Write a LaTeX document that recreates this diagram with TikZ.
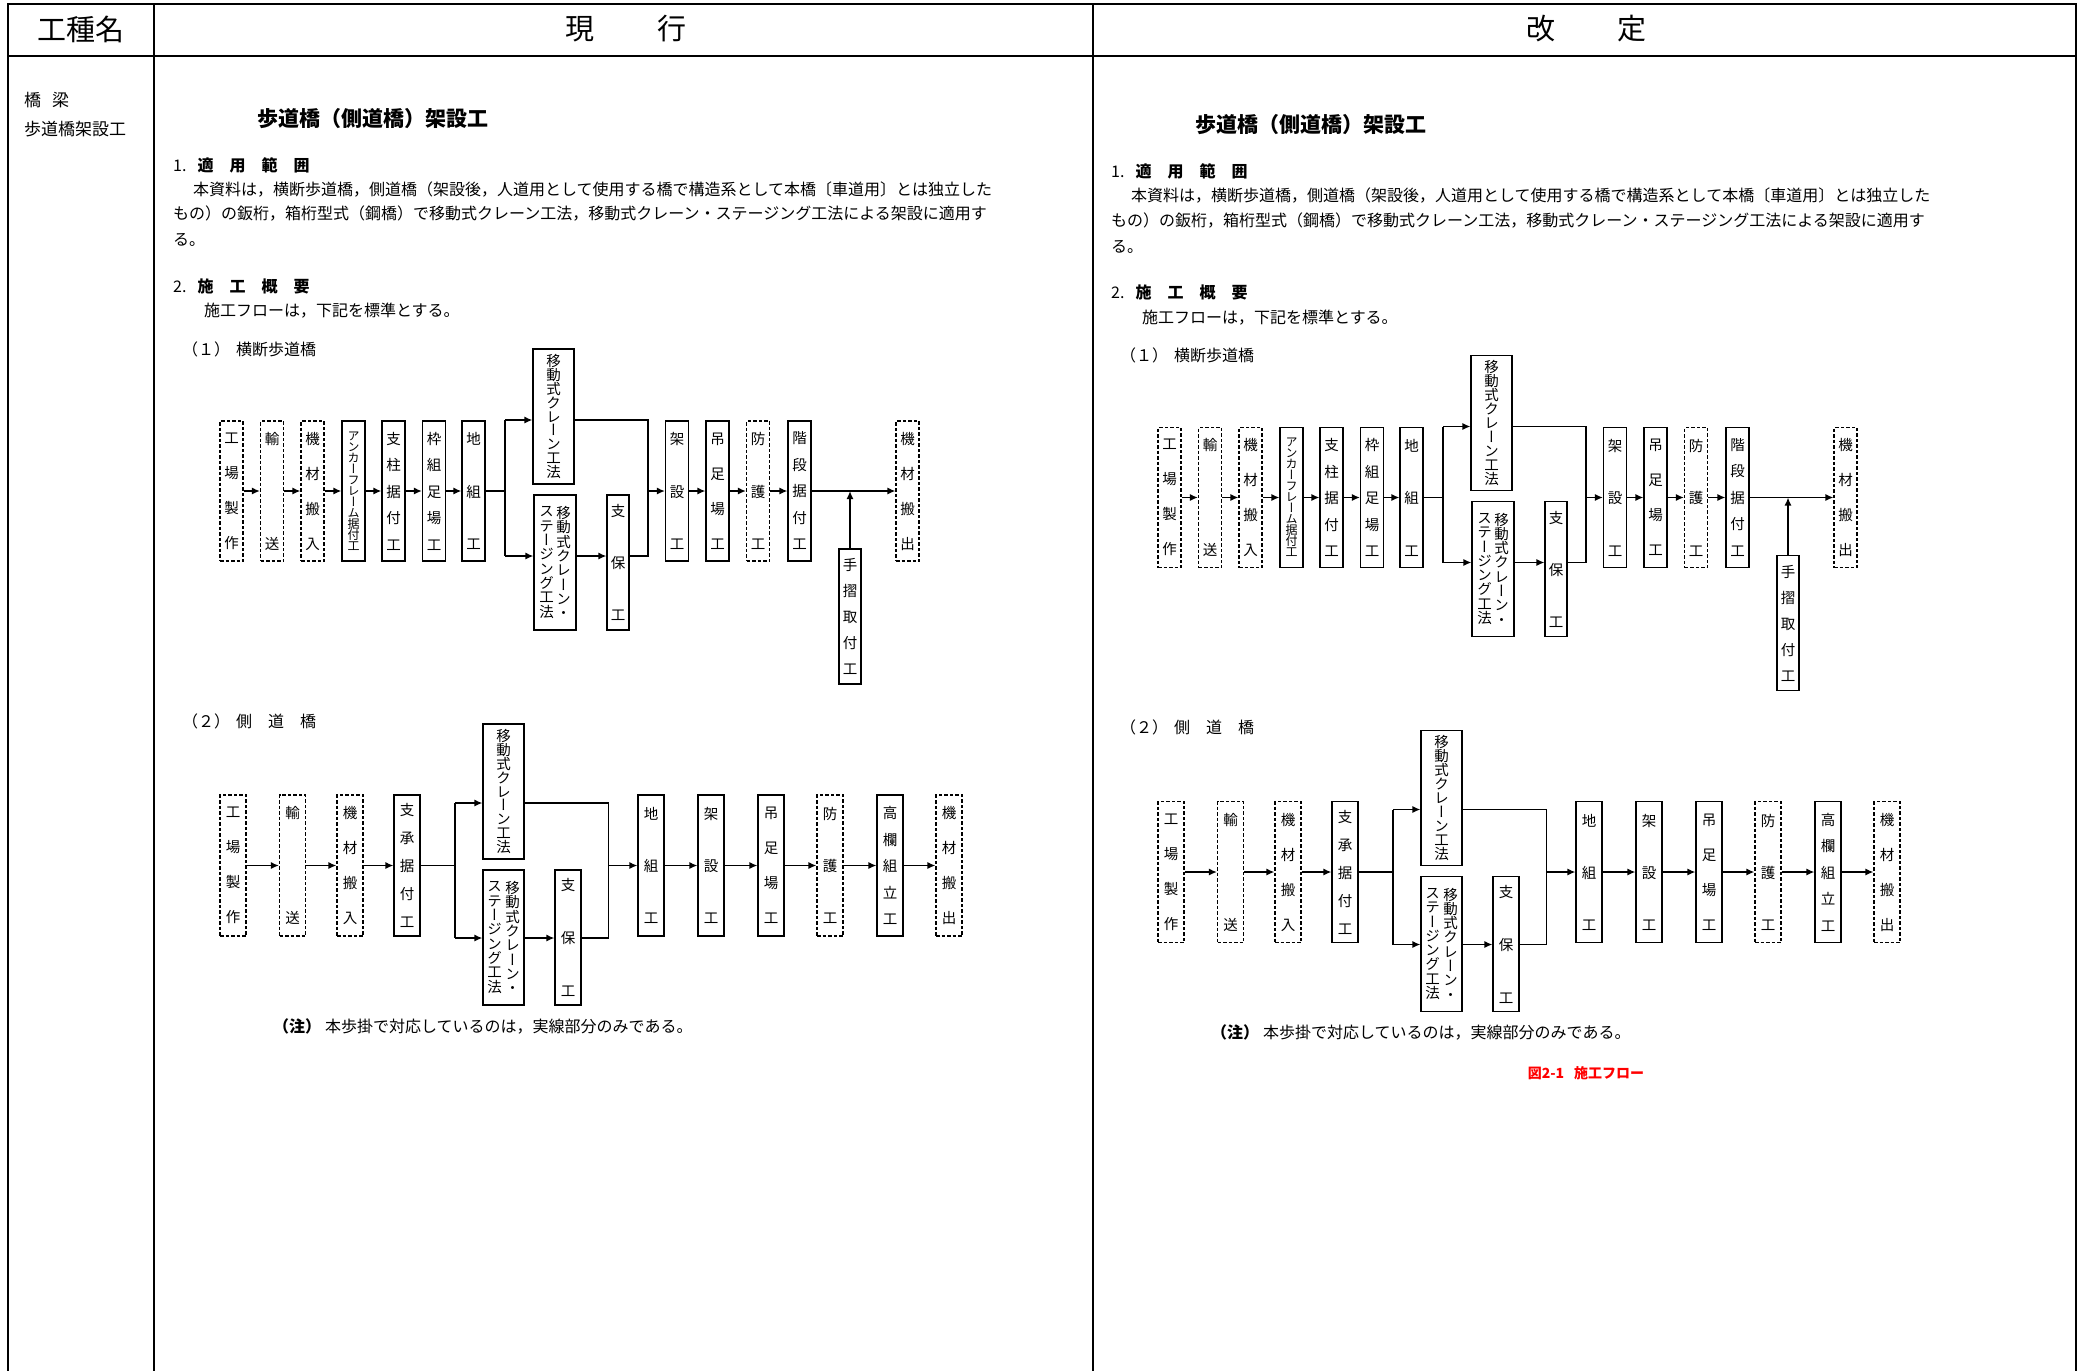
\documentclass[tikz,border=0pt]{standalone}
\usepackage{fontspec}
\setmainfont{Noto Sans CJK JP}
\newfontfamily\vjp{Noto Sans CJK JP}[RawFeature=+vert]
\usetikzlibrary{arrows.meta}

\begin{document}
\begin{tikzpicture}[x=1pt, y=-1pt,
    box/.style={draw, line width=1.1pt, inner sep=0pt, minimum width=23, minimum height=140, align=center},
    dbox/.style={box, dash pattern=on 3.5pt off 2pt},
    sp/.style={font=\vjp\fontsize{14.5}{#1}\selectfont},
    vt/.style={sp=#1, align=center, inner sep=0pt},
    arr/.style={line width=1.5pt, -{Latex[length=8pt, width=7pt]}},
    ln/.style={line width=1.1pt},
    txt/.style={anchor=west, inner sep=0pt, font=\fontsize{16}{18}\selectfont},
    hd/.style={txt, font=\bfseries\fontsize{16}{18}\selectfont}]

\fill[white] (0,0) rectangle (2087,1370);
\useasboundingbox (0,0) rectangle (2087,1370);

% table
\draw[line width=2.6pt] (8,1372) -- (8,4) -- (2076,4) -- (2076,1372);
\draw[line width=2.6pt] (8,56) -- (2076,56);
\draw[line width=2.6pt] (154,4) -- (154,1372);
\draw[line width=2.6pt] (1093,4) -- (1093,1372);

\node[font=\fontsize{29}{31}\selectfont] (h1) at (81,29) {工種名};
\node[font=\fontsize{29}{31}\selectfont] (h2) at (626,29) {現\hspace{63pt}行};
\node[font=\fontsize{29}{31}\selectfont] (h3) at (1586.5,29) {改\hspace{62pt}定};

\node[txt, font=\fontsize{17}{19}\selectfont] (k1) at (24,100) {橋\hspace{11pt}梁};
\node[txt, font=\fontsize{17}{19}\selectfont] (k2) at (24,129) {歩道橋架設工};

\foreach \dx/\dy in {0/0, 938/6.5} {
\begin{scope}[shift={(\dx,\dy)}]

% text
\node[hd, font=\bfseries\fontsize{21}{24}\selectfont] (ti) at (257,118.5) {歩道橋（側道橋）架設工};
\node[hd] (s1) at (173,165) {\mdseries 1.\hspace{11pt}\bfseries 適　用　範　囲};
\node[txt] (p1) at (193,189) {本資料は，横断歩道橋，側道橋（架設後，人道用として使用する橋で構造系として本橋〔車道用〕とは独立した};
\node[txt] (p2) at (173,214) {もの）の鈑桁，箱桁型式（鋼橋）で移動式クレーン工法，移動式クレーン・ステージング工法による架設に適用す};
\node[txt] (p3) at (173,240) {る。};
\node[hd] (s2) at (173,286) {\mdseries 2.\hspace{11pt}\bfseries 施　工　概　要};
\node[txt] (p4) at (204,311) {施工フローは，下記を標準とする。};
\node[txt] (f1) at (182,349) {（１）\hspace{6pt}横断歩道橋};
\node[txt] (f2) at (182,721) {（２）\hspace{6pt}側　道　橋};
\node[txt] (nt) at (273,1026) {\textbf{（注）}\hspace{4pt}本歩掛で対応しているのは，実線部分のみである。};

% flow 1
\node[dbox, sp=35] (a1) at (231.5,491) {工\\場\\製\\作};
\node[dbox, sp=35] (a2) at (272,491) {輸\\[70pt]送};
\node[dbox, sp=35] (a3) at (312.5,491) {機\\材\\搬\\入};
\node[box, font=\vjp\fontsize{12}{11}\selectfont] (a4) at (353.5,491) {ア\\ン\\カ\\ー\\フ\\レ\\ー\\ム\\据\\付\\工};
\node[box, sp=26.5] (a5) at (393.5,491) {支\\柱\\据\\付\\工};
\node[box, sp=26.5] (a6) at (434,491) {枠\\組\\足\\場\\工};
\node[box, sp=52.5] (a7) at (473.5,491) {地\\組\\工};
\node[box, sp=13.9, minimum width=41, minimum height=135] (cr) at (553.5,416.5) {移\\動\\式\\ク\\レ\\ー\\ン\\工\\法};
\node[box, minimum width=42, minimum height=135] (st) at (555,562.5) {};
\node[vt=14.3] (st1) at ([xshift=8.5]st.center) {移\\動\\式\\ク\\レ\\ー\\ン\\・};
\node[vt=14.3] (st2) at ([xshift=-8.5]st.center) {ス\\テ\\ー\\ジ\\ン\\グ\\工\\法};
\node[box, sp=52, minimum width=22, minimum height=135] (hs) at (618,562.5) {支\\保\\工};
\node[box, sp=52.5] (a8) at (677,491) {架\\設\\工};
\node[box, sp=35] (a9) at (717.5,491) {吊\\足\\場\\工};
\node[dbox, sp=52.5] (a10) at (758,491) {防\\護\\工};
\node[box, sp=26.5] (a11) at (799.5,491) {階\\段\\据\\付\\工};
\node[dbox, sp=35] (a12) at (907.5,491) {機\\材\\搬\\出};
\node[box, sp=26, minimum width=22, minimum height=135] (te) at (850,616.5) {手\\摺\\取\\付\\工};

\coordinate (b1) at (505,491);
\coordinate (bu1) at (505,420);
\coordinate (bd1) at (505,556);
\coordinate (j1) at (648,491);
\coordinate (jd1) at (648,556);

\draw[arr] (a1) -- (a2);
\draw[arr] (a2) -- (a3);
\draw[arr] (a3) -- (a4);
\draw[arr] (a4) -- (a5);
\draw[arr] (a5) -- (a6);
\draw[arr] (a6) -- (a7);
\draw[ln] (a7) -- (b1);
\draw[ln] (bu1) -- (bd1);
\draw[arr] (bu1) -- (bu1 -| cr.west);
\draw[arr] (bd1) -- (bd1 -| st.west);
\draw[arr] (bd1 -| st.east) -- (bd1 -| hs.west);
\draw[ln] (bu1 -| cr.east) -| (jd1) -- (jd1 -| hs.east);
\draw[arr] (j1) -- (a8);
\draw[arr] (a8) -- (a9);
\draw[arr] (a9) -- (a10);
\draw[arr] (a10) -- (a11);
\draw[arr] (a11) -- (a12);
\draw[arr] (te) -- (te |- a11);

% flow 2
\node[dbox, sp=35, minimum width=26, minimum height=141] (c1) at (233,865.5) {工\\場\\製\\作};
\node[dbox, sp=35, minimum width=26, minimum height=141] (c2) at (292.5,865.5) {輸\\[70pt]送};
\node[dbox, sp=35, minimum width=26, minimum height=141] (c3) at (350,865.5) {機\\材\\搬\\入};
\node[box, sp=28, minimum width=26, minimum height=141] (c4) at (407,865.5) {支\\承\\据\\付\\工};
\node[box, sp=13.9, minimum width=41, minimum height=135] (cr2) at (503.5,791.5) {移\\動\\式\\ク\\レ\\ー\\ン\\工\\法};
\node[box, minimum width=41, minimum height=135] (sb) at (503.5,937.5) {};
\node[vt=14.3] (sb1) at ([xshift=9]sb.center) {移\\動\\式\\ク\\レ\\ー\\ン\\・};
\node[vt=14.3] (sb2) at ([xshift=-9]sb.center) {ス\\テ\\ー\\ジ\\ン\\グ\\工\\法};
\node[box, sp=53, minimum width=26, minimum height=135] (hs2) at (568,937.5) {支\\保\\工};
\node[box, sp=52, minimum width=26, minimum height=141] (c5) at (651,865.5) {地\\組\\工};
\node[box, sp=52, minimum width=26, minimum height=141] (c6) at (711,865.5) {架\\設\\工};
\node[box, sp=35, minimum width=26, minimum height=141] (c7) at (771,865.5) {吊\\足\\場\\工};
\node[dbox, sp=52, minimum width=26, minimum height=141] (c8) at (830,865.5) {防\\護\\工};
\node[box, sp=26.5, minimum width=26, minimum height=141] (c9) at (890,865.5) {高\\欄\\組\\立\\工};
\node[dbox, sp=35, minimum width=26, minimum height=141] (c10) at (949,865.5) {機\\材\\搬\\出};

\coordinate (b2) at (455,865.5);
\coordinate (bu2) at (455,803);
\coordinate (bd2) at (455,938);
\coordinate (j2) at (608.5,865.5);
\coordinate (jd2) at (608.5,938);

\draw[arr] (c1) -- (c2);
\draw[arr] (c2) -- (c3);
\draw[arr] (c3) -- (c4);
\draw[ln] (c4) -- (b2);
\draw[ln] (bu2) -- (bd2);
\draw[arr] (bu2) -- (bu2 -| cr2.west);
\draw[arr] (bd2) -- (bd2 -| sb.west);
\draw[arr] (bd2 -| sb.east) -- (bd2 -| hs2.west);
\draw[ln] (bu2 -| cr2.east) -| (jd2) -- (jd2 -| hs2.east);
\draw[arr] (j2) -- (c5);
\draw[arr] (c5) -- (c6);
\draw[arr] (c6) -- (c7);
\draw[arr] (c7) -- (c8);
\draw[arr] (c8) -- (c9);
\draw[arr] (c9) -- (c10);

\end{scope}
}

\node[font=\bfseries\fontsize{14}{16}\selectfont, text=red] (cap) at (1586,1073) {図2-1\hspace{10pt}施工フロー};

\end{tikzpicture}
\end{document}
